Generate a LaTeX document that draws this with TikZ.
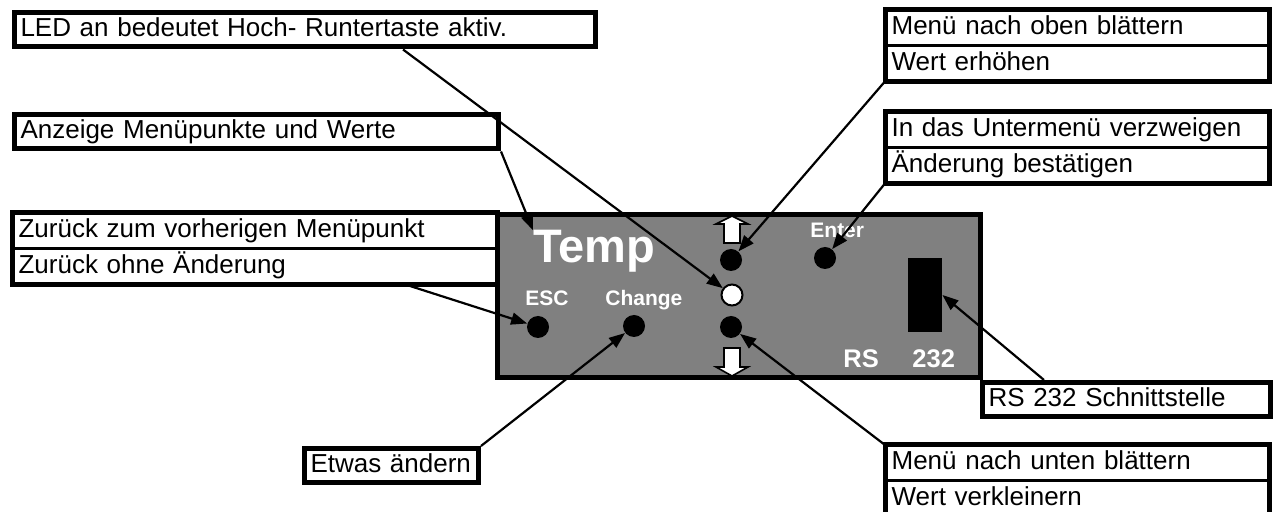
\documentclass[tikz,border=0pt]{standalone}
\usepackage{fontspec}
\setmainfont{Liberation Sans}
\usetikzlibrary{arrows.meta}
\definecolor{panelgray}{RGB}{128,128,128}

\begin{document}
\begin{tikzpicture}[x=0.5pt, y=-0.5pt, >={Triangle[length=8pt,width=6pt]},
  note/.style={draw, line width=0.6pt, anchor=north west, inner xsep=3pt, inner ysep=0pt,
    minimum height=17.25pt, text height=9.5pt, text depth=3pt, align=left,
    font=\fontsize{13}{15}\selectfont, text width=#1},
  frame/.style={line width=2.5pt},
  key/.style={circle, fill=black, minimum size=11pt, inner sep=0pt},
  lamp/.style={circle, draw, fill=white, line width=1pt, minimum size=10.5pt, inner sep=0pt},
  tag/.style={anchor=base west, text=white, inner sep=0pt, font=\fontsize{10.5}{12}\selectfont\bfseries},
  link/.style={->, line width=1.1pt},
  hollow/.style={draw, fill=white, line width=0.8pt}]
  \useasboundingbox (0,0) rectangle (1273,512);

  % front panel
  \draw[frame, fill=panelgray] (497,215) rectangle (980,378);
  \node[tag, font=\fontsize{23.5}{26}\selectfont\bfseries] (temp) at (533,263) {Temp};
  \node[tag] (esc) at (525,306) {ESC};
  \node[tag] (chg) at (605,306) {Change};
  \node[tag] (ent) at (810,238) {Enter};
  \node[tag, font=\fontsize{12.75}{14}\selectfont\bfseries] (rs) at (843,368) {RS};
  \node[tag, font=\fontsize{12.75}{14}\selectfont\bfseries] (nr) at (912,368) {232};

  % keys and LED
  \node[key] (esckey) at (538,327) {};
  \node[key] (chgkey) at (634,326) {};
  \node[key] (upkey) at (731,260) {};
  \node[lamp] (lamp) at (732,295) {};
  \node[key] (downkey) at (731,327) {};
  \node[key] (entkey) at (825,258) {};
  \draw[hollow] (732,216) -- (748,224) -- (740,224) -- (740,243) -- (724,243) -- (724,224) -- (716,224) -- cycle;
  \draw[hollow] (724,348) -- (740,348) -- (740,367) -- (748,367) -- (732,376) -- (716,367) -- (724,367) -- cycle;

  % serial port
  \node[fill=black, minimum width=17pt, minimum height=37pt, inner sep=0pt] (port) at (925,295) {};

  % notes
  \node[note=284.5pt, frame] (led) at (12,10) {LED an bedeutet Hoch- Runtertaste aktiv.};
  \node[note=236pt, frame] (disp) at (12,112) {Anzeige Menüpunkte und Werte};
  \node[note=236pt] (back1) at (12,213) {Zurück zum vorherigen Menüpunkt};
  \node[note=236pt] (back2) at (back1.south west) {Zurück ohne Änderung};
  \draw[frame] (back1.north west) rectangle (back2.south east);
  \node[note=185.5pt] (up1) at (885,10) {Menü nach oben blättern};
  \node[note=185.5pt] (up2) at (up1.south west) {Wert erhöhen};
  \draw[frame] (up1.north west) rectangle (up2.south east);
  \node[note=185.5pt] (ok1) at (885,112) {In das Untermenü verzweigen};
  \node[note=185.5pt] (ok2) at (ok1.south west) {Änderung bestätigen};
  \draw[frame] (ok1.north west) rectangle (ok2.south east);
  \node[note=138pt, frame] (rsnote) at (980,380) {RS 232 Schnittstelle};
  \node[note=81pt, frame] (chgnote) at (302,446) {Etwas ändern};
  \node[note=185.5pt] (dn1) at (885,445) {Menü nach unten blättern};
  \node[note=185.5pt] (dn2) at (dn1.south west) {Wert verkleinern};
  \draw[frame] (dn1.north west) rectangle (dn2.south east);

  % connectors
  \draw[link] ([xshift=195.5pt]led.south west) -- (lamp);
  \draw[link] (disp.south east) -- (temp.north west);
  \draw[link] ([xshift=196.5pt]back2.south west) -- (esckey);
  \draw[link] (up2.south west) -- (upkey);
  \draw[link] (ok2.south west) -- (entkey);
  \draw[link] ([xshift=32pt]rsnote.north west) -- (port.east);
  \draw[link] (chgnote.north east) -- (chgkey);
  \draw[link] (dn1.north west) -- (downkey);
\end{tikzpicture}
\end{document}
